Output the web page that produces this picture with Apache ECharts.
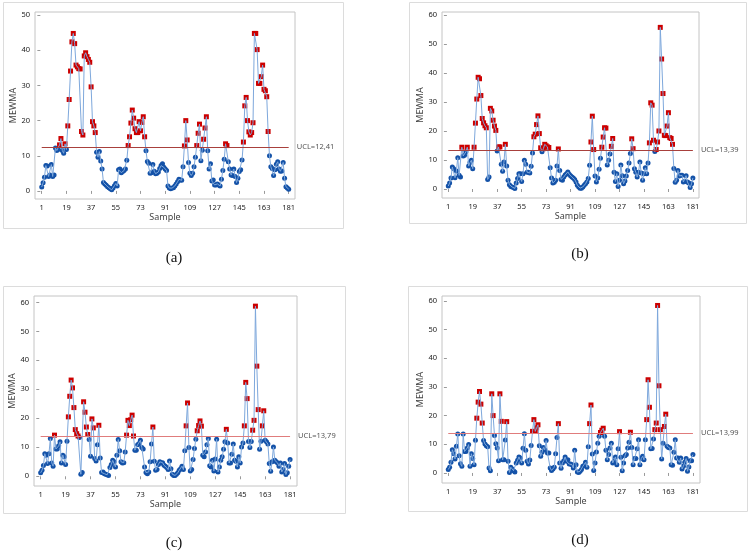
<!DOCTYPE html>
<html>
<head>
<meta charset="utf-8">
<title>MEWMA charts</title>
<script src="https://cdn.jsdelivr.net/npm/echarts@6/dist/echarts.min.js"></script>
<style>
  html, body { margin: 0; padding: 0; background: #fff; }
  #chart { width: 750px; height: 554px; }
</style>
</head>
<body>
<div id="chart"></div>
<script>
// 样本编号刻度（四个子图相同）
const sampleTicks = [1, 19, 37, 55, 73, 91, 109, 127, 145, 163, 181];
const yTicksA = [0, 10, 20, 30, 40, 50];
const yTicksBCD = [0, 10, 20, 30, 40, 50, 60];

const uclValues = [12.41, 13.39, 13.79, 13.99];
const uclLabels = ['UCL=12,41', 'UCL=13,39', 'UCL=13,79', 'UCL=13,99'];
const panelLabels = ['(a)', '(b)', '(c)', '(d)'];

// MEWMA 统计量，样本 1..181
const mewmaA = [
  1.1, 2.3, 3.9, 7.2, 7.1, 4.1, 4.5, 7.5, 4.1, 4.5,
  12.2, 11.5, 11.8, 13.1, 14.9, 11.5, 10.7, 13.4, 11.8, 18.5,
  26.0, 34.1, 42.4, 44.8, 41.9, 35.8, 35.3, 34.8, 34.7, 16.9,
  15.9, 38.4, 39.3, 38.2, 37.4, 36.6, 29.6, 19.7, 18.5, 16.6,
  11.0, 9.6, 11.2, 8.5, 6.2, 2.4, 2.0, 1.6, 1.2, 0.9,
  0.6, 0.3, 0.8, 1.5, 2.1, 1.4, 6.0, 6.2, 5.2, 5.5,
  5.8, 6.2, 8.7, 12.9, 15.4, 19.3, 23.0, 20.7, 17.7, 16.6,
  16.6, 19.7, 17.1, 19.5, 21.1, 15.4, 11.4, 8.4, 7.9, 5.0,
  5.2, 7.5, 5.6, 4.9, 5.0, 5.4, 6.4, 7.2, 7.7, 6.7,
  6.2, 5.8, 1.4, 0.8, 0.6, 0.8, 0.9, 1.4, 2.0, 2.6,
  3.3, 3.1, 3.0, 6.9, 12.8, 20.0, 14.5, 8.1, 5.0, 4.4,
  5.0, 6.9, 9.6, 12.9, 16.4, 19.0, 8.6, 11.6, 14.7, 17.9,
  21.1, 11.4, 6.2, 7.7, 2.8, 3.1, 1.7, 1.7, 2.0, 1.7,
  1.4, 3.3, 5.8, 9.0, 13.4, 12.9, 8.3, 6.2, 4.5, 4.4,
  6.2, 4.1, 2.4, 3.6, 5.5, 6.0, 8.8, 13.9, 24.2, 26.6,
  20.0, 16.8, 15.9, 16.6, 19.4, 44.8, 44.8, 40.2, 30.6, 30.6,
  32.5, 35.8, 28.9, 28.5, 26.8, 16.9, 10.0, 6.9, 6.4, 4.4,
  6.0, 7.6, 8.3, 6.2, 5.6, 5.7, 8.1, 3.6, 1.2, 0.8,
  0.5
];

const mewmaB = [
  1.0, 2.1, 3.8, 7.6, 7.0, 3.9, 6.2, 10.8, 4.7, 4.1,
  14.4, 11.4, 11.6, 12.8, 14.4, 7.9, 9.1, 9.9, 7.0, 14.4,
  22.7, 31.0, 38.5, 38.0, 32.2, 24.3, 22.8, 21.8, 21.1, 3.3,
  4.1, 27.8, 26.9, 23.7, 21.7, 20.2, 13.1, 14.5, 14.5, 8.5,
  6.1, 9.3, 15.4, 7.9, 3.0, 1.5, 0.9, 0.7, 0.5, 0.2,
  2.1, 3.6, 5.3, 5.3, 2.6, 5.3, 9.9, 8.5, 5.8, 5.8,
  5.5, 7.8, 12.4, 18.0, 18.9, 22.2, 25.2, 19.1, 14.2, 12.8,
  13.9, 15.4, 14.9, 14.5, 14.3, 7.3, 3.8, 2.1, 2.3, 3.0,
  7.9, 13.8, 6.4, 3.3, 3.0, 4.1, 4.8, 5.3, 5.9, 5.1,
  4.6, 4.1, 3.8, 3.3, 2.4, 1.3, 0.7, 0.3, 0.3, 0.7,
  1.3, 1.8, 2.4, 3.6, 8.2, 16.2, 25.1, 13.6, 4.5, 2.4,
  3.8, 6.8, 10.6, 14.4, 17.9, 21.1, 21.0, 8.3, 9.9, 12.1,
  14.7, 17.4, 5.8, 2.6, 5.3, 0.9, 3.0, 8.3, 4.6, 1.8,
  2.8, 4.5, 6.4, 9.0, 12.2, 17.3, 13.9, 7.0, 5.8, 4.1,
  5.8, 9.3, 5.5, 3.0, 5.3, 7.3, 5.3, 9.0, 15.9, 29.7,
  28.9, 16.8, 12.9, 13.6, 16.2, 20.0, 55.7, 44.8, 32.9, 18.5,
  18.4, 21.7, 26.3, 17.7, 17.4, 15.4, 7.1, 2.3, 3.0, 6.4,
  4.5, 4.7, 4.7, 2.4, 2.6, 4.6, 2.4, 2.1, 0.5, 1.8,
  3.8
];

const mewmaC = [
  1.2, 2.1, 3.7, 7.8, 7.3, 4.4, 7.8, 13.0, 4.6, 3.5,
  14.2, 9.4, 9.4, 10.5, 11.9, 4.6, 7.3, 6.7, 4.1, 12.1,
  20.5, 27.6, 33.2, 30.5, 23.7, 16.1, 14.7, 13.9, 13.4, 0.7,
  1.3, 25.7, 22.1, 17.0, 14.4, 12.7, 6.9, 19.8, 16.7, 6.1,
  5.3, 10.9, 17.6, 6.3, 1.3, 1.5, 0.9, 0.7, 0.5, 0.3,
  3.0, 4.1, 5.5, 5.0, 3.2, 7.3, 12.7, 8.8, 5.0, 4.6,
  4.7, 8.4, 14.2, 19.3, 17.5, 19.5, 21.1, 13.9, 9.0, 9.0,
  10.9, 11.3, 12.4, 9.9, 9.4, 3.2, 1.3, 0.9, 1.5, 5.0,
  11.1, 17.0, 5.2, 2.1, 2.3, 4.1, 5.0, 4.6, 4.7, 3.8,
  3.5, 3.0, 2.3, 5.3, 2.6, 0.7, 0.3, 0.3, 0.7, 1.2,
  2.1, 2.6, 3.5, 2.3, 8.8, 17.4, 25.3, 9.9, 1.8, 2.3,
  5.8, 9.6, 12.8, 15.7, 17.5, 19.1, 17.3, 7.3, 6.7, 8.4,
  10.9, 13.0, 3.6, 3.2, 5.5, 1.8, 6.0, 12.8, 1.5, 3.2,
  5.5, 6.7, 9.3, 11.9, 16.2, 11.5, 4.6, 4.6, 7.6, 11.1,
  5.5, 5.2, 3.2, 6.7, 4.6, 10.1, 11.5, 17.4, 32.4, 26.8,
  12.0, 9.9, 12.0, 15.9, 19.3, 58.7, 38.0, 23.0, 9.3, 12.1,
  17.4, 22.6, 12.4, 11.9, 11.1, 4.4, 1.7, 5.0, 10.1, 5.5,
  5.0, 4.6, 3.5, 4.6, 1.5, 2.3, 4.4, 0.6, 1.2, 3.5,
  5.8
];

const mewmaD = [
  1.2, 2.0, 3.7, 8.1, 6.7, 4.9, 9.3, 13.6, 6.0, 3.2,
  2.3, 13.6, 7.5, 7.5, 8.7, 9.9, 2.3, 6.7, 5.0, 2.9,
  11.4, 19.1, 24.7, 28.4, 24.0, 17.4, 11.3, 10.1, 9.5, 9.1,
  1.7, 0.8, 27.6, 20.0, 13.1, 10.2, 8.7, 4.3, 27.6, 18.0,
  4.6, 4.6, 11.5, 17.9, 4.1, 0.2, 2.0, 1.4, 0.8, 0.3,
  3.5, 4.4, 5.6, 5.2, 3.5, 8.6, 13.7, 7.9, 4.1, 3.1,
  4.5, 9.6, 14.5, 18.6, 14.5, 15.7, 16.8, 9.5, 5.8, 7.2,
  8.9, 8.1, 11.3, 7.0, 7.0, 1.7, 0.9, 1.4, 2.0, 6.7,
  12.4, 17.2, 3.5, 1.6, 3.5, 4.3, 5.6, 4.1, 4.6, 3.1,
  3.1, 2.9, 1.7, 7.9, 2.9, 0.3, 0.2, 0.6, 1.2, 2.3,
  2.6, 3.7, 2.0, 9.1, 17.2, 23.7, 6.6, 0.9, 3.5, 7.3,
  10.4, 12.8, 14.1, 14.9, 15.6, 12.8, 7.9, 4.6, 6.4, 8.7,
  10.4, 3.5, 4.1, 5.6, 2.9, 8.4, 14.4, 5.5, 0.8, 3.5,
  6.0, 6.4, 8.7, 10.7, 14.2, 8.9, 2.9, 5.0, 5.0, 8.4,
  11.6, 2.9, 5.0, 5.8, 4.6, 11.6, 18.6, 32.5, 22.9, 8.4,
  8.5, 11.8, 15.1, 17.4, 58.4, 30.4, 15.1, 4.9, 10.4, 16.2,
  20.5, 9.3, 8.9, 8.7, 2.9, 2.7, 7.2, 11.6, 5.2, 5.2,
  3.7, 5.2, 1.4, 2.3, 3.7, 5.0, 0.6, 2.1, 4.3, 4.3,
  6.4
];

// 子图布局（像素）
const panels = [
  { values: mewmaA, yTicks: yTicksA, grid: { left: 35, top: 12, width: 260, height: 187 },
    x: [-3.9, 185.6], y: [-2.3, 50.9], frame: [3, 2, 340, 226], label: [174, 258], uclColor: '#a8403c' },
  { values: mewmaB, yTicks: yTicksBCD, grid: { left: 442, top: 12, width: 257, height: 186 },
    x: [-3.6, 185.5], y: [-3.1, 61.0], frame: [409, 2, 337, 221], label: [580, 254], uclColor: '#a8403c' },
  { values: mewmaC, yTicks: yTicksBCD, grid: { left: 34, top: 296, width: 263, height: 190 },
    x: [-3.8, 186.0], y: [-3.35, 62.2], frame: [3, 286, 342, 227], label: [174, 543], uclColor: '#e07c7c' },
  { values: mewmaD, yTicks: yTicksBCD, grid: { left: 442, top: 296, width: 258, height: 187 },
    x: [-3.6, 186.2], y: [-3.5, 61.7], frame: [408, 286, 339, 225], label: [580, 540], uclColor: '#e07c7c' }
];

const FONT = 'Noto Sans';

function buildOption() {
  const grid = [], xAxis = [], yAxis = [], series = [], graphic = [];

  panels.forEach((p, i) => {
    const ucl = uclValues[i];
    const points = p.values.map((v, k) => [k + 1, v]);

    grid.push({ ...p.grid, show: true, borderColor: '#c4c4c4', borderWidth: 1, backgroundColor: '#fff' });

    xAxis.push({
      type: 'value', gridIndex: i, min: p.x[0], max: p.x[1],
      name: 'Sample', nameLocation: 'middle', nameGap: 14,
      nameTextStyle: { fontFamily: FONT, fontSize: 9, color: '#444' },
      axisLine: { show: false },
      splitLine: { show: false },
      axisTick: { show: true, length: 3, lineStyle: { color: '#9a9a9a' }, customValues: sampleTicks },
      axisLabel: { fontFamily: FONT, fontSize: 7.5, color: '#222', margin: 5, customValues: sampleTicks }
    });

    yAxis.push({
      type: 'value', gridIndex: i, min: p.y[0], max: p.y[1],
      name: 'MEWMA', nameLocation: 'middle', nameGap: 14,
      nameTextStyle: { fontFamily: FONT, fontSize: 9, color: '#444' },
      axisLine: { show: false },
      splitLine: { show: false },
      axisTick: { show: true, length: 3, lineStyle: { color: '#9a9a9a' }, customValues: p.yTicks },
      axisLabel: { fontFamily: FONT, fontSize: 7.5, color: '#222', margin: 5, customValues: p.yTicks }
    });

    // 连线 + 控制限
    series.push({
      type: 'line', xAxisIndex: i, yAxisIndex: i, data: points,
      showSymbol: false, silent: true,
      lineStyle: { color: '#7ea8dc', width: 1 },
      markLine: {
        silent: true, symbol: 'none',
        lineStyle: { color: p.uclColor, width: 1, type: 'solid' },
        label: { show: true, position: 'end', distance: 8, formatter: uclLabels[i],
                 fontFamily: FONT, fontSize: 7.5, color: '#555' },
        data: [[{ coord: [sampleTicks[0], ucl] }, { coord: [sampleTicks[sampleTicks.length - 1], ucl] }]]
      }
    });

    // 受控点（蓝圆）与失控点（红方块）；散点默认透明度 0.8，这里改为不透明
    series.push({
      type: 'scatter', xAxisIndex: i, yAxisIndex: i, silent: true,
      data: points.filter(d => d[1] <= ucl),
      symbol: 'circle', symbolSize: 5,
      itemStyle: { color: '#1452a8', opacity: 1 }
    });
    series.push({
      type: 'scatter', xAxisIndex: i, yAxisIndex: i, silent: true,
      data: points.filter(d => d[1] > ucl),
      symbol: 'rect', symbolSize: 5,
      itemStyle: { color: '#cc0000', opacity: 1 }
    });

    // 外框与子图编号
    graphic.push({
      type: 'rect', silent: true, z: -1,
      shape: { x: p.frame[0] + 0.5, y: p.frame[1] + 0.5, width: p.frame[2], height: p.frame[3] },
      style: { fill: 'none', stroke: '#dcdcdc', lineWidth: 1 }
    });
    graphic.push({
      type: 'text', silent: true, x: p.label[0], y: p.label[1],
      style: { text: panelLabels[i], fontFamily: 'Liberation Serif', fontSize: 15, fill: '#111',
               align: 'center', verticalAlign: 'middle' }
    });
  });

  return { animation: false, backgroundColor: '#fff', grid, xAxis, yAxis, series, graphic };
}

const chart = echarts.init(document.getElementById('chart'), null, { renderer: 'canvas' });
chart.setOption(buildOption());
</script>
</body>
</html>
